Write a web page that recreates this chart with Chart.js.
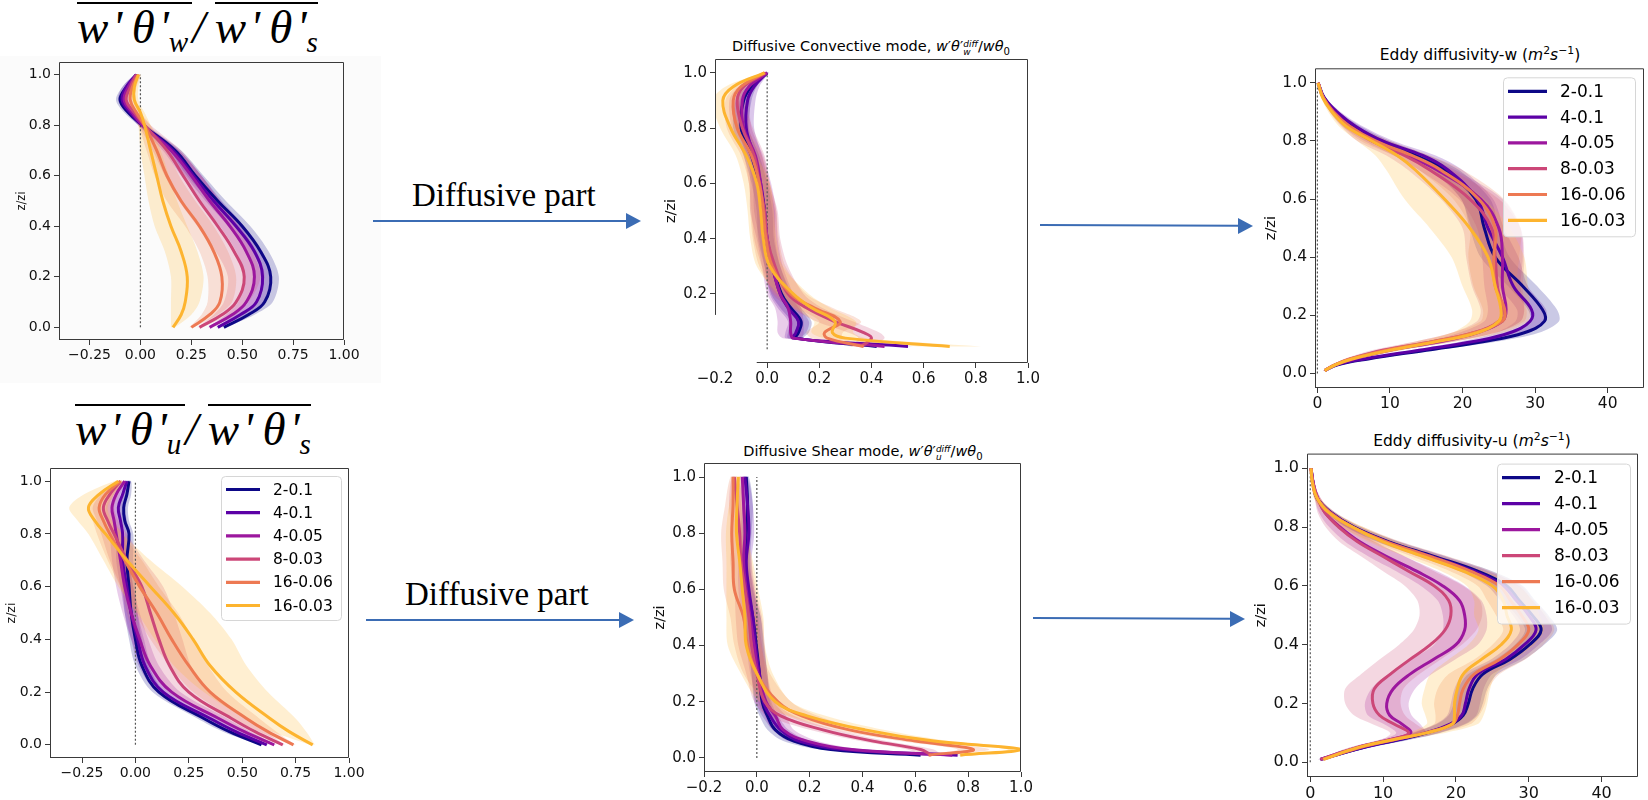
<!DOCTYPE html>
<html>
<head>
<meta charset="utf-8">
<script src="https://cdn.jsdelivr.net/npm/chart.js@4.4.0/dist/chart.umd.min.js"></script>
<style>
  html, body { margin: 0; padding: 0; background: #fff; }
  body { width: 1648px; height: 800px; position: relative; overflow: hidden; font-family: "DejaVu Sans", sans-serif; }
  canvas { position: absolute; }
  .bg { position: absolute; left: 0; top: 56px; width: 381px; height: 327px; background: #fbfbfb; }
  .ptitle { position: absolute; white-space: nowrap; transform: translateX(-50%); line-height: 1; color: #000; }
  .ptitle sub, .ptitle sup { font-size: 70%; line-height: 0; }
  .ss { display: inline-block; font-size: 62%; line-height: 1; vertical-align: -0.5em; }
  .ss span { display: block; }
  .big { position: absolute; font-family: "Liberation Serif", serif; font-style: italic; font-size: 47px; line-height: 1; white-space: nowrap; color: #000; }
  .big .ol { display: inline-block; border-top: 2px solid #000; line-height: 1; }
  .big sub { font-size: 62%; vertical-align: -0.32em; line-height: 0; }
  .note { position: absolute; font-family: "Liberation Serif", serif; font-size: 33px; line-height: 1; white-space: nowrap; color: #000; }
  svg { position: absolute; left: 0; top: 0; }
</style>
</head>
<body>

<div class="bg"></div>

<div class="big" style="left:77px; top:2px;"><span class="ol">w&#8202;'&#8201;θ&#8202;'<sub>w</sub>&#8202;</span>/&#8201;<span class="ol">w&#8202;'&#8201;θ&#8202;'<sub>s</sub></span></div>
<div class="big" style="left:75px; top:404px;"><span class="ol">w&#8202;'&#8201;θ&#8202;'<sub>u</sub>&#8202;</span>/&#8201;<span class="ol">w&#8202;'&#8201;θ&#8202;'<sub>s</sub></span></div>

<div class="ptitle" style="left:871px; top:39px; font-size:14.5px;">Diffusive Convective mode, <i>w</i>′<i>θ</i>′<span class="ss"><span><i>diff</i></span><span><i>w</i></span></span>/<i>wθ</i><sub>0</sub></div>
<div class="ptitle" style="left:1480px; top:48px; font-size:15.5px;">Eddy diffusivity-w (<i>m</i><sup>2</sup><i>s</i><sup>−1</sup>)</div>
<div class="ptitle" style="left:863px; top:444px; font-size:14.5px;">Diffusive Shear mode, <i>w</i>′<i>θ</i>′<span class="ss"><span><i>diff</i></span><span><i>u</i></span></span>/<i>wθ</i><sub>0</sub></div>
<div class="ptitle" style="left:1472px; top:434px; font-size:15.5px;">Eddy diffusivity-u (<i>m</i><sup>2</sup><i>s</i><sup>−1</sup>)</div>

<div class="note" style="left:412px; top:179px;">Diffusive part</div>
<div class="note" style="left:405px; top:578px;">Diffusive part</div>

<script>
// ---- shared ----
const seriesNames = ['2-0.1', '4-0.1', '4-0.05', '8-0.03', '16-0.06', '16-0.03'];
const seriesColors = ['#0d0887', '#5c01a6', '#9c179e', '#cc4778', '#ed7953', '#fdb42f'];

const zTicks = [0, 0.2, 0.4, 0.6, 0.8, 1.0];
const zTicksCut = [0.2, 0.4, 0.6, 0.8, 1.0];
const ratioTicks = [-0.25, 0, 0.25, 0.5, 0.75, 1.0];
const diffTicks = [-0.2, 0, 0.2, 0.4, 0.6, 0.8, 1.0];
const eddyTicks = [0, 10, 20, 30, 40];

// ---- total convective flux ratio (top left) ----
const convTotZ = [0, 0.05, 0.1, 0.2, 0.3, 0.4, 0.5, 0.6, 0.7, 0.8, 0.85, 0.9, 0.95, 1.0];
const convTotX = [
  [0.41, 0.53, 0.61, 0.64, 0.59, 0.50, 0.38, 0.27, 0.17, 0.01, -0.06, -0.10, -0.07, -0.02],
  [0.38, 0.49, 0.57, 0.60, 0.56, 0.47, 0.36, 0.26, 0.16, 0.01, -0.05, -0.09, -0.07, -0.02],
  [0.34, 0.45, 0.52, 0.56, 0.52, 0.44, 0.34, 0.25, 0.15, 0.01, -0.04, -0.08, -0.06, -0.02],
  [0.29, 0.40, 0.47, 0.51, 0.46, 0.38, 0.29, 0.21, 0.13, 0.02, -0.03, -0.07, -0.05, -0.02],
  [0.25, 0.34, 0.39, 0.40, 0.36, 0.29, 0.20, 0.13, 0.08, 0.02, -0.02, -0.05, -0.04, -0.01],
  [0.16, 0.20, 0.22, 0.23, 0.20, 0.15, 0.11, 0.08, 0.05, 0.02, 0.00, -0.03, -0.03, -0.01]
];
const convTotSd = [
  [0.01, 0.03, 0.04, 0.04, 0.04, 0.04, 0.04, 0.04, 0.03, 0.02, 0.02, 0.02, 0.02, 0.01],
  [0.01, 0.03, 0.04, 0.04, 0.04, 0.04, 0.04, 0.04, 0.03, 0.02, 0.02, 0.02, 0.02, 0.01],
  [0.01, 0.03, 0.04, 0.05, 0.05, 0.05, 0.05, 0.05, 0.04, 0.02, 0.02, 0.02, 0.02, 0.01],
  [0.01, 0.04, 0.06, 0.08, 0.09, 0.10, 0.10, 0.09, 0.07, 0.03, 0.02, 0.02, 0.02, 0.01],
  [0.01, 0.04, 0.06, 0.07, 0.07, 0.07, 0.07, 0.06, 0.05, 0.03, 0.02, 0.02, 0.02, 0.01],
  [0.01, 0.05, 0.07, 0.08, 0.08, 0.08, 0.07, 0.06, 0.05, 0.03, 0.02, 0.02, 0.02, 0.01]
];

// ---- total shear flux ratio (bottom left) ----
const shearTotZ = [0, 0.05, 0.1, 0.2, 0.3, 0.4, 0.5, 0.6, 0.7, 0.8, 0.85, 0.9, 0.95, 1.0];
const shearTotX = [
  [0.59, 0.44, 0.32, 0.11, 0.03, 0.00, -0.02, -0.03, -0.04, -0.03, -0.05, -0.055, -0.04, -0.03],
  [0.615, 0.47, 0.35, 0.13, 0.045, 0.01, -0.02, -0.04, -0.06, -0.06, -0.07, -0.08, -0.06, -0.04],
  [0.65, 0.51, 0.39, 0.17, 0.07, 0.02, -0.02, -0.05, -0.07, -0.09, -0.10, -0.11, -0.09, -0.05],
  [0.69, 0.56, 0.45, 0.25, 0.16, 0.11, 0.07, 0.03, -0.04, -0.10, -0.13, -0.15, -0.12, -0.07],
  [0.74, 0.62, 0.52, 0.35, 0.25, 0.17, 0.10, 0.02, -0.05, -0.12, -0.15, -0.17, -0.14, -0.07],
  [0.83, 0.72, 0.63, 0.47, 0.35, 0.27, 0.18, 0.07, -0.04, -0.14, -0.19, -0.22, -0.17, -0.08]
];
const shearTotSd = [
  [0.01, 0.03, 0.03, 0.03, 0.03, 0.03, 0.03, 0.03, 0.03, 0.02, 0.02, 0.02, 0.02, 0.01],
  [0.01, 0.03, 0.03, 0.03, 0.03, 0.03, 0.03, 0.03, 0.03, 0.03, 0.03, 0.03, 0.02, 0.01],
  [0.01, 0.03, 0.04, 0.04, 0.04, 0.04, 0.04, 0.04, 0.04, 0.03, 0.03, 0.03, 0.02, 0.01],
  [0.01, 0.05, 0.07, 0.09, 0.10, 0.11, 0.11, 0.10, 0.08, 0.06, 0.05, 0.05, 0.04, 0.01],
  [0.01, 0.04, 0.06, 0.08, 0.09, 0.10, 0.10, 0.09, 0.08, 0.06, 0.05, 0.05, 0.04, 0.01],
  [0.01, 0.08, 0.12, 0.15, 0.17, 0.18, 0.17, 0.15, 0.11, 0.08, 0.08, 0.09, 0.07, 0.02]
];

// ---- diffusive convective mode (top middle) ----
const convDiffZ = [0.01, 0.04, 0.06, 0.1, 0.15, 0.2, 0.3, 0.4, 0.5, 0.6, 0.7, 0.8, 0.9, 0.95, 1.0];
const convDiffX = [
  [0.42, 0.11, 0.12, 0.13, 0.09, 0.055, 0.02, -0.005, -0.01, -0.03, -0.06, -0.10, -0.09, -0.06, 0.0],
  [0.54, 0.10, 0.11, 0.12, 0.08, 0.05, 0.02, 0.0, -0.01, -0.025, -0.05, -0.08, -0.075, -0.05, 0.0],
  [0.45, 0.10, 0.09, 0.09, 0.08, 0.05, 0.02, 0.0, -0.015, -0.025, -0.045, -0.09, -0.095, -0.07, 0.0],
  [0.36, 0.40, 0.37, 0.26, 0.15, 0.08, 0.03, 0.0, -0.01, -0.03, -0.05, -0.095, -0.115, -0.09, -0.005],
  [0.37, 0.23, 0.22, 0.28, 0.18, 0.09, 0.02, -0.005, -0.015, -0.03, -0.06, -0.115, -0.13, -0.10, -0.01],
  [0.70, 0.30, 0.25, 0.26, 0.17, 0.10, 0.01, -0.015, -0.025, -0.04, -0.08, -0.14, -0.17, -0.13, -0.01]
];
const convDiffSd = [
  [0.02, 0.03, 0.04, 0.04, 0.04, 0.04, 0.03, 0.03, 0.03, 0.03, 0.03, 0.03, 0.03, 0.02, 0.005],
  [0.02, 0.03, 0.04, 0.04, 0.04, 0.04, 0.03, 0.03, 0.04, 0.03, 0.03, 0.03, 0.03, 0.02, 0.005],
  [0.03, 0.04, 0.05, 0.05, 0.05, 0.05, 0.04, 0.04, 0.05, 0.04, 0.03, 0.03, 0.03, 0.02, 0.005],
  [0.04, 0.05, 0.06, 0.07, 0.06, 0.06, 0.05, 0.05, 0.05, 0.04, 0.04, 0.04, 0.03, 0.02, 0.005],
  [0.05, 0.06, 0.07, 0.08, 0.07, 0.06, 0.05, 0.05, 0.05, 0.04, 0.04, 0.04, 0.03, 0.02, 0.005],
  [0.12, 0.08, 0.08, 0.08, 0.07, 0.06, 0.05, 0.05, 0.05, 0.05, 0.04, 0.04, 0.04, 0.03, 0.005]
];

// ---- diffusive shear mode (bottom middle) ----
const shearDiffZ = [0.01, 0.03, 0.06, 0.1, 0.15, 0.2, 0.3, 0.4, 0.5, 0.6, 0.7, 0.8, 0.9, 1.0];
const shearDiffX = [
  [0.62, 0.28, 0.14, 0.07, 0.04, 0.02, 0.01, -0.002, -0.015, -0.035, -0.045, -0.04, -0.035, -0.04],
  [0.76, 0.33, 0.16, 0.09, 0.05, 0.025, 0.01, -0.005, -0.015, -0.03, -0.04, -0.03, -0.035, -0.045],
  [0.74, 0.36, 0.19, 0.10, 0.07, 0.035, 0.005, -0.01, -0.025, -0.04, -0.05, -0.045, -0.05, -0.055],
  [0.66, 0.62, 0.44, 0.25, 0.09, 0.03, 0.0, -0.02, -0.03, -0.045, -0.06, -0.065, -0.075, -0.085],
  [0.65, 0.82, 0.60, 0.35, 0.17, 0.08, 0.0, -0.035, -0.05, -0.085, -0.09, -0.095, -0.09, -0.09],
  [0.77, 1.0, 0.67, 0.41, 0.19, 0.07, 0.0, -0.04, -0.045, -0.055, -0.065, -0.077, -0.075, -0.07]
];
const shearDiffSd = [
  [0.03, 0.04, 0.04, 0.03, 0.03, 0.03, 0.03, 0.03, 0.03, 0.02, 0.02, 0.02, 0.02, 0.01],
  [0.03, 0.04, 0.04, 0.03, 0.03, 0.03, 0.03, 0.03, 0.03, 0.02, 0.02, 0.02, 0.02, 0.01],
  [0.03, 0.04, 0.04, 0.04, 0.04, 0.03, 0.03, 0.03, 0.03, 0.03, 0.02, 0.02, 0.02, 0.01],
  [0.04, 0.05, 0.05, 0.05, 0.05, 0.04, 0.04, 0.05, 0.05, 0.04, 0.04, 0.03, 0.03, 0.01],
  [0.05, 0.06, 0.06, 0.06, 0.06, 0.05, 0.05, 0.05, 0.05, 0.04, 0.04, 0.04, 0.03, 0.01],
  [0.06, 0.05, 0.06, 0.07, 0.07, 0.06, 0.06, 0.07, 0.07, 0.06, 0.05, 0.04, 0.03, 0.01]
];

// ---- eddy diffusivity w (top right) ----
const eddyWZ = [0.01, 0.03, 0.05, 0.08, 0.11, 0.14, 0.18, 0.22, 0.3, 0.4, 0.5, 0.6, 0.7, 0.75, 0.8, 0.85, 0.9, 0.95, 1.0];
const eddyWX = [
  [1.0, 2.8, 7, 15, 23, 28.5, 31.3, 31, 28.3, 24.5, 23, 21.8, 17.5, 13.5, 8.5, 5, 2.5, 0.9, 0.1],
  [1.0, 2.6, 6.5, 14, 21.5, 26.5, 29.3, 29.5, 27, 25.5, 23.5, 22, 18, 14.5, 9, 5.3, 2.7, 0.9, 0.1],
  [1.0, 2.5, 5, 10, 17, 22, 25.5, 26, 25.5, 25.5, 25, 22.5, 16.5, 12.5, 8, 4.5, 2.3, 0.8, 0.1],
  [1.0, 2.4, 4.5, 9, 16, 21.5, 25, 25.5, 24.8, 24.5, 24, 21, 15.5, 12, 7.5, 4.3, 2.2, 0.8, 0.1],
  [1.0, 2.5, 4.5, 9.5, 16, 21.5, 25.5, 25.8, 24.5, 24.3, 24.5, 22.2, 17, 13, 8, 4.5, 2.2, 0.8, 0.1],
  [1.0, 2.5, 4.8, 10, 16.5, 22, 25, 25.3, 24.5, 23.5, 21, 17.5, 13.5, 11, 7.5, 4, 2, 0.7, 0.1]
];
const eddyWSd = [
  [0.2, 0.4, 0.8, 1.2, 1.8, 2, 2, 2, 2, 2, 2, 2, 2, 1.8, 1.5, 1, 0.5, 0.2, 0.05],
  [0.2, 0.4, 0.8, 1.2, 1.8, 2, 2, 2, 2, 2.2, 2.2, 2.2, 2, 1.8, 1.5, 1, 0.5, 0.2, 0.05],
  [0.2, 0.4, 0.8, 1.5, 2, 2.5, 2.5, 2.5, 2.5, 2.8, 3, 3, 2.5, 2, 1.5, 1, 0.5, 0.2, 0.05],
  [0.2, 0.4, 0.8, 1.5, 2.5, 3, 3, 3, 3.5, 4, 4, 4, 3, 2.5, 2, 1, 0.5, 0.2, 0.05],
  [0.2, 0.4, 0.8, 1.5, 2.5, 3, 3, 3, 3, 3.5, 3.5, 3.5, 3, 2.5, 2, 1, 0.5, 0.2, 0.05],
  [0.2, 0.4, 0.8, 1.5, 2.5, 3.5, 4, 4, 4.5, 5, 5.5, 5.5, 4, 3, 2, 1, 0.5, 0.2, 0.05]
];

// ---- eddy diffusivity u (bottom right) ----
const eddyUZ = [0.01, 0.05, 0.08, 0.1, 0.13, 0.16, 0.2, 0.25, 0.3, 0.35, 0.4, 0.45, 0.5, 0.55, 0.6, 0.65, 0.7, 0.75, 0.8, 0.85, 0.9, 0.95, 1.0];
const eddyUX = [
  [1.4, 7.3, 12.8, 16, 19.4, 21, 21.7, 22.3, 23.7, 27.4, 30.1, 31.7, 30.5, 28.7, 27, 23, 17, 10.8, 6, 2.8, 0.9, 0.4, 0.1],
  [1.4, 7.2, 12.6, 15.8, 19.2, 20.8, 21.3, 21.8, 23, 26.8, 29.4, 31, 30, 28.3, 26.5, 22.5, 16.7, 10.6, 5.9, 2.8, 0.9, 0.4, 0.1],
  [1.4, 6.4, 11.5, 13.8, 12.6, 10.9, 10.5, 11.4, 13.7, 16.9, 20, 21.2, 21.2, 20.5, 18.2, 14.6, 10.5, 6.8, 4.1, 2, 1.0, 0.4, 0.1],
  [1.4, 6.4, 11.5, 13.5, 11.5, 9.5, 8.6, 8.8, 11, 13.7, 16.5, 18.5, 19.3, 19, 17, 13.5, 10, 6.5, 3.9, 2, 1.0, 0.4, 0.1],
  [1.8, 6.8, 12, 15.8, 19.5, 20.2, 20.5, 21, 22.5, 26, 28.5, 30, 29, 27.5, 26, 22, 16.5, 10.5, 5.8, 2.7, 0.9, 0.3, 0.1],
  [1.8, 6.5, 12, 16, 19.5, 19.8, 19.8, 20.2, 21, 23.5, 26.2, 27.6, 27, 26.5, 25, 21, 15.5, 10, 5.8, 2.5, 0.9, 0.3, 0.1]
];
const eddyUSd = [
  [0.3, 1, 1.5, 1.8, 2, 2, 2, 2, 2, 2, 2, 2.2, 2.2, 2.2, 2.2, 2, 1.8, 1.5, 1, 0.6, 0.3, 0.1, 0.05],
  [0.3, 1, 1.5, 1.8, 2, 2, 2, 2, 2, 2, 2, 2.2, 2.2, 2.2, 2.2, 2, 1.8, 1.5, 1, 0.6, 0.3, 0.1, 0.05],
  [0.3, 1, 1.5, 2, 2.5, 3, 3, 3, 3, 3, 3, 3, 3, 3, 3, 2.8, 2.5, 2, 1.5, 0.8, 0.4, 0.1, 0.05],
  [0.3, 1, 1.5, 2.5, 3, 3.5, 3.8, 4, 4, 4.2, 4.3, 4.3, 4.3, 4.3, 4, 3.5, 3, 2.5, 1.8, 1, 0.4, 0.1, 0.05],
  [0.3, 1, 1.5, 2, 2.5, 3, 3.5, 3.5, 3.5, 3.5, 3.5, 3.5, 3.5, 3.2, 3, 2.8, 2.5, 2, 1.5, 0.8, 0.4, 0.1, 0.05],
  [0.3, 1, 1.5, 2.5, 3.5, 4, 4.5, 4.5, 4.5, 4.5, 4.5, 4.5, 4.5, 4, 3.5, 3, 2.5, 2, 1.5, 0.8, 0.4, 0.1, 0.05]
];

// panel boxes are plot-area edges in page pixels [left, top, right, bottom]
const panels = [
  { box: [59, 62, 344, 340], yw: 44, pr: 18, tick: 14, lab: 11.5, z: convTotZ, mean: convTotX, sd: convTotSd,
    xMin: -0.4, xMax: 1.0, xTicks: ratioTicks, yTicks: zTicks, dec: 2 },
  { box: [715, 59, 1028, 363], yw: 52, pr: 14, tick: 15, lab: 14.5, z: convDiffZ, mean: convDiffX, sd: convDiffSd,
    xMin: -0.2, xMax: 1.0, xTicks: diffTicks, yTicks: zTicksCut, dec: 1, cut: { leftTo: 0.124, bottomFrom: -0.04 } },
  { box: [1315, 68, 1644, 388], yw: 52, pr: 4, tick: 15.5, lab: 14.5, z: eddyWZ, mean: eddyWX, sd: eddyWSd,
    xMin: -0.33, xMax: 45, xTicks: eddyTicks, yTicks: zTicks, dec: 0,
    legend: { left: 188, top: 9, w: 132, h: 159, first: 14, step: 25.8, x0: 5, x1: 44, tx: 57, size: 17 } },
  { box: [50, 468, 349, 758], yw: 46, pr: 18, tick: 14, lab: 12.5, z: shearTotZ, mean: shearTotX, sd: shearTotSd,
    xMin: -0.4, xMax: 1.0, xTicks: ratioTicks, yTicks: zTicks, dec: 2,
    legend: { left: 171, top: 8, w: 120, h: 144, first: 13.5, step: 23.2, x0: 5, x1: 39, tx: 52, size: 15.5 } },
  { box: [704, 463, 1021, 772], yw: 52, pr: 14, tick: 15, lab: 14.5, z: shearDiffZ, mean: shearDiffX, sd: shearDiffSd,
    xMin: -0.2, xMax: 1.0, xTicks: diffTicks, yTicks: zTicks, dec: 1 },
  { box: [1307, 453, 1638, 777], yw: 54, pr: 8, tick: 16, lab: 14.5, z: eddyUZ, mean: eddyUX, sd: eddyUSd,
    xMin: -0.45, xMax: 45, xTicks: eddyTicks, yTicks: zTicks, dec: 0,
    legend: { left: 190, top: 10, w: 133, h: 160, first: 14, step: 26, x0: 5, x1: 43, tx: 57, size: 17 } }
];

function rgba(hex, a) {
  const n = parseInt(hex.slice(1), 16);
  return 'rgba(' + (n >> 16) + ',' + ((n >> 8) & 255) + ',' + (n & 255) + ',' + a + ')';
}

function fmt(v, dec) {
  return (v < -1e-9 ? '\u2212' : '') + Math.abs(v).toFixed(dec);
}

// box around the axes, with optional cut spines
const framePlugin = {
  id: 'frame',
  afterDatasetsDraw(chart, args, o) {
    const { ctx, chartArea: a, scales } = chart;
    let leftEnd = a.bottom, bottomStart = a.left;
    if (o.leftTo != null) leftEnd = scales.y.getPixelForValue(o.leftTo);
    if (o.bottomFrom != null) bottomStart = scales.x.getPixelForValue(o.bottomFrom);
    ctx.save();
    ctx.strokeStyle = '#3a3a3a';
    ctx.lineWidth = 1;
    ctx.beginPath();
    ctx.moveTo(a.left + 0.5, leftEnd);
    ctx.lineTo(a.left + 0.5, a.top + 0.5);
    ctx.lineTo(a.right - 0.5, a.top + 0.5);
    ctx.lineTo(a.right - 0.5, a.bottom - 0.5);
    ctx.lineTo(bottomStart, a.bottom - 0.5);
    ctx.stroke();
    ctx.restore();
  }
};

// legend drawn inside the plot area like matplotlib
const boxLegend = {
  id: 'boxLegend',
  afterDraw(chart, args, o) {
    if (o.left == null) return;
    const { ctx, chartArea: a } = chart;
    const x = a.left + o.left, y = a.top + o.top;
    ctx.save();
    ctx.beginPath();
    ctx.roundRect(x + 0.5, y + 0.5, o.w, o.h, 4);
    ctx.fillStyle = 'rgba(255,255,255,0.8)';
    ctx.fill();
    ctx.strokeStyle = '#d6d6d6';
    ctx.lineWidth = 1;
    ctx.stroke();
    ctx.font = o.size + 'px "DejaVu Sans"';
    ctx.textBaseline = 'middle';
    chart.data.datasets.filter(d => d.label).forEach((d, i) => {
      const cy = y + o.first + i * o.step;
      ctx.strokeStyle = d.borderColor;
      ctx.lineWidth = 3.2;
      ctx.beginPath();
      ctx.moveTo(x + o.x0, cy);
      ctx.lineTo(x + o.x1, cy);
      ctx.stroke();
      ctx.fillStyle = '#000';
      ctx.fillText(d.label, x + o.tx, cy + 1);
    });
    ctx.restore();
  }
};

function bandPoints(z, mean, sd) {
  const lo = z.map((zz, k) => ({ x: mean[k] - sd[k], y: zz }));
  const hi = z.map((zz, k) => ({ x: mean[k] + sd[k], y: zz })).reverse();
  return lo.concat(hi);
}

function makePanel(p) {
  const pt = 12, xh = 34;
  const [l, t, r, b] = p.box;
  const cv = document.createElement('canvas');
  cv.width = r - l + p.yw + p.pr;
  cv.height = b - t + pt + xh;
  cv.style.left = (l - p.yw) + 'px';
  cv.style.top = (t - pt) + 'px';
  document.body.appendChild(cv);

  const datasets = [];
  p.mean.forEach((m, i) => {
    datasets.push({
      data: bandPoints(p.z, m, p.sd[i]),
      showLine: true, fill: 'shape', backgroundColor: rgba(seriesColors[i], 0.22),
      borderWidth: 0, borderColor: 'rgba(0,0,0,0)', pointRadius: 0, tension: 0.3, order: 40 - i
    });
  });
  datasets.push({
    data: [{ x: 0, y: 0 }, { x: 0, y: 1 }],
    showLine: true, fill: false, borderColor: '#555', borderWidth: 1.2, borderDash: [2, 2],
    pointRadius: 0, order: 30
  });
  p.mean.forEach((m, i) => {
    datasets.push({
      label: seriesNames[i],
      data: p.z.map((zz, k) => ({ x: m[k], y: zz })),
      showLine: true, fill: false, borderColor: seriesColors[i], borderWidth: 3,
      pointRadius: 0, tension: 0.4, order: 20 - i
    });
  });

  const tickFont = { family: 'DejaVu Sans', size: p.tick };
  const gridStyle = { drawOnChartArea: false, drawTicks: true, tickLength: 5, color: '#3a3a3a' };
  if (p.cut) {
    gridStyle.color = ctx => (ctx.tick && ctx.tick.value < p.cut.bottomFrom ? 'rgba(0,0,0,0)' : '#3a3a3a');
  }

  new Chart(cv, {
    type: 'scatter',
    data: { datasets },
    options: {
      responsive: false, animation: false, devicePixelRatio: 1,
      layout: { padding: { left: 0, top: pt, right: p.pr, bottom: 0 } },
      plugins: {
        legend: { display: false }, tooltip: { enabled: false },
        frame: p.cut || {},
        boxLegend: p.legend || {}
      },
      scales: {
        x: {
          type: 'linear', min: p.xMin, max: p.xMax,
          afterFit: s => { s.height = xh; },
          afterBuildTicks: s => { s.ticks = p.xTicks.map(v => ({ value: v })); },
          ticks: { font: tickFont, color: '#111', padding: 2, maxRotation: 0, autoSkip: false, callback: v => fmt(v, p.dec) },
          grid: gridStyle, border: { display: false }
        },
        y: {
          type: 'linear', min: -0.05, max: 1.05,
          afterFit: s => { s.width = p.yw; },
          afterBuildTicks: s => { s.ticks = p.yTicks.map(v => ({ value: v })); },
          ticks: { font: tickFont, color: '#111', padding: 3, autoSkip: false, callback: v => fmt(v, 1) },
          grid: { drawOnChartArea: false, drawTicks: true, tickLength: 5, color: '#3a3a3a' },
          border: { display: false },
          title: { display: true, text: 'z/zi', color: '#111', padding: 0, font: { family: 'DejaVu Sans', size: p.lab } }
        }
      }
    },
    plugins: [framePlugin, boxLegend]
  });
}

panels.forEach(makePanel);
</script>

<svg width="1648" height="800" viewBox="0 0 1648 800">
  <g stroke="#3b6cb4" stroke-width="2" fill="#3b6cb4">
    <line x1="373" y1="221" x2="628" y2="221"/>
    <polygon points="626,213 641,221 626,229" stroke="none"/>
    <line x1="1040" y1="225" x2="1240" y2="225.8"/>
    <polygon points="1238,218 1253,226 1238,234" stroke="none"/>
    <line x1="366" y1="620" x2="621" y2="620"/>
    <polygon points="619,612 634,620 619,628" stroke="none"/>
    <line x1="1033" y1="618" x2="1232" y2="618.8"/>
    <polygon points="1230,611 1245,619 1230,627" stroke="none"/>
  </g>
</svg>
</body>
</html>
